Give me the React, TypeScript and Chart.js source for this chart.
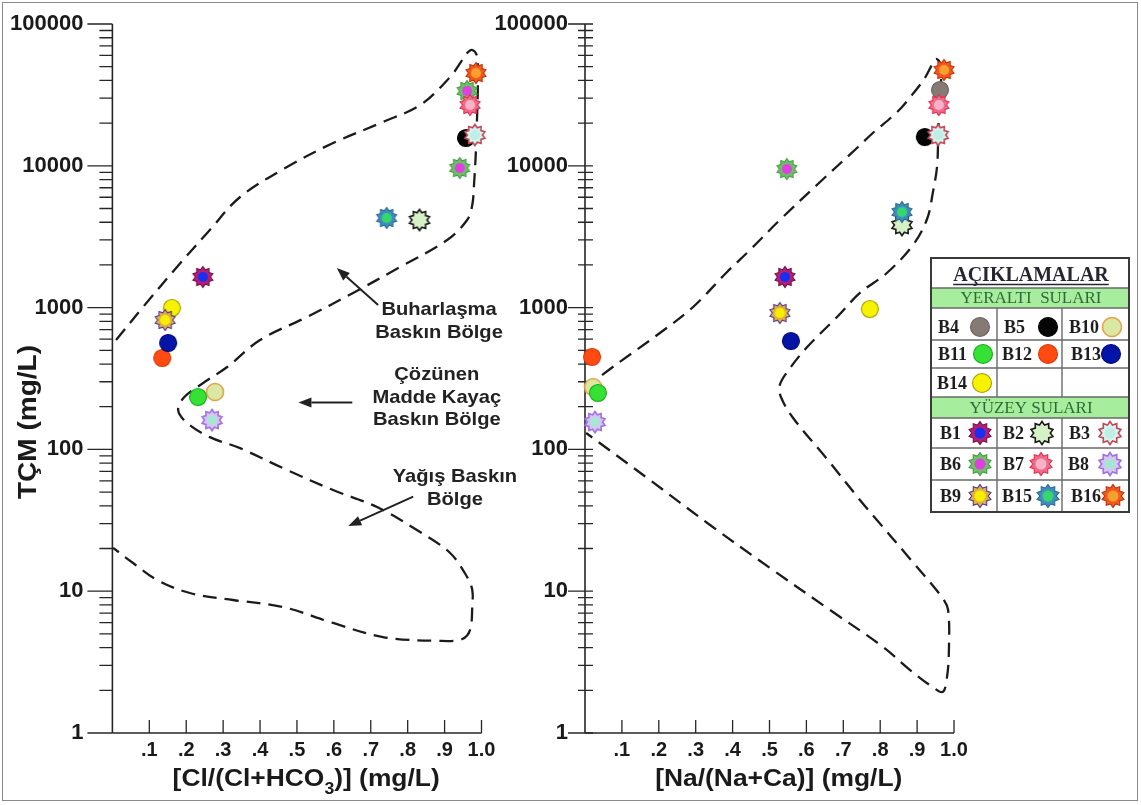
import React, { useEffect, useRef } from 'react';
import { Chart, registerables } from 'chart.js';

Chart.register(...registerables);

const PAGE_W = 1141;
const PAGE_H = 805;
const FONT = '"Liberation Sans", Arial, Helvetica, sans-serif';
const SERIF = '"Liberation Serif", "Times New Roman", serif';
Chart.defaults.font.family = FONT;

// ---------------- data ----------------
const sampleNames = ['B4', 'B5', 'B10', 'B11', 'B12', 'B13', 'B14', 'B1', 'B2', 'B3', 'B6', 'B7', 'B8', 'B9', 'B15', 'B16'];
// Cl/(Cl+HCO3) panel
const clRatio = [0.961, 0.958, 0.278, 0.232, 0.135, 0.151, 0.161, 0.245, 0.832, 0.982, 0.941, 0.969, 0.270, 0.143, 0.743, 0.985];
const tdsCl = [33700, 15700, 254, 234, 441, 563, 994, 1644, 4150, 16500, 9650, 26840, 161, 818, 4285, 45100];
// Na/(Na+Ca) panel
const naRatio = [0.962, 0.921, 0.022, 0.035, 0.019, 0.558, 0.772, 0.542, 0.859, 0.957, 0.547, 0.959, 0.027, 0.528, 0.859, 0.973];
const tdsNa = [34250, 15960, 275, 250, 449, 581, 977, 1644, 3823, 16500, 9490, 26840, 156, 916, 4720, 47400];

// Gibbs boundary (dashed) curves
const gibbsClX = [0.010, 0.083, 0.175, 0.264, 0.346, 0.473, 0.598, 0.733, 0.834, 0.915, 0.948, 0.961, 0.975, 0.988, 0.990, 0.990, 0.988, 0.985, 0.980, 0.975, 0.961, 0.907, 0.779, 0.652, 0.527, 0.400, 0.311, 0.246, 0.195, 0.178, 0.202, 0.264, 0.346, 0.473, 0.598, 0.717, 0.825, 0.915, 0.961, 0.975, 0.975, 0.969, 0.948, 0.888, 0.733, 0.598, 0.462, 0.327, 0.210, 0.121, 0.056, 0.002];
const gibbsClY = [591, 1010, 1933, 3526, 6026, 9806, 14480, 20360, 26840, 42290, 55740, 62450, 65550, 59480, 47380, 34240, 22090, 12920, 7560, 5290, 4147, 2997, 1933, 1268, 858, 591, 381, 294, 234, 190, 154, 122, 102, 71.6, 51.7, 39.2, 27.0, 18.6, 12.6, 10.2, 7.74, 5.33, 4.6, 4.46, 4.75, 5.97, 7.74, 8.67, 9.71, 12.0, 15.8, 20.2];
const gibbsNaX = [0.003, 0.054, 0.203, 0.293, 0.385, 0.447, 0.528, 0.637, 0.737, 0.780, 0.846, 0.886, 0.921, 0.940, 0.951, 0.962, 0.965, 0.959, 0.957, 0.954, 0.943, 0.927, 0.889, 0.818, 0.745, 0.683, 0.602, 0.556, 0.528, 0.531, 0.564, 0.656, 0.745, 0.791, 0.881, 0.967, 0.984, 0.986, 0.981, 0.970, 0.943, 0.881, 0.808, 0.664, 0.501, 0.339, 0.176, 0.003];
const gibbsNaY = [262, 346, 662, 1010, 1783, 2548, 4147, 7688, 13350, 17030, 23950, 31570, 41610, 51380, 56660, 53090, 40290, 23570, 15200, 9806, 6535, 4214, 2764, 1754, 1268, 858, 527, 375, 285, 234, 166.5, 85.5, 44, 31.8, 16.9, 9.1, 7.37, 3.66, 2.48, 1.95, 2.1, 2.78, 4.04, 7.37, 14.6, 29.3, 60.8, 130.6];

// axis ticks
const xTickValues = [0, 0.1, 0.2, 0.3, 0.4, 0.5, 0.6, 0.7, 0.8, 0.9, 1.0];
const yDecades = [1, 10, 100, 1000, 10000, 100000];
const yMinorMultipliers = [2, 3, 4, 5, 6, 7, 8, 9];

// texts
const yTitle = 'TÇM (mg/L)';
const xTitleCl = [{ t: '[Cl/(Cl+HCO' }, { t: '3', sub: true }, { t: ')] (mg/L)' }];
const xTitleNa = [{ t: '[Na/(Na+Ca)] (mg/L)' }];
const regionLabels = [
  { lines: ['Buharlaşma', 'Baskın Bölge'], x: 0.885, y: 962 },
  { lines: ['Çözünen', 'Madde Kayaç', 'Baskın Bölge'], x: 0.879, y: 335 },
  { lines: ['Yağış Baskın', 'Bölge'], x: 0.928, y: 64 },
];
const regionArrows = [
  { from: [0.720, 1043], to: [0.608, 1902] },
  { from: [0.650, 214], to: [0.504, 214] },
  { from: [0.815, 46.4], to: [0.639, 28.8] },
];
const legendTitle = 'AÇIKLAMALAR';
const groundLabel = 'YERALTI  SULARI';
const surfaceLabel = 'YÜZEY SULARI';

// ---------------- styles ----------------
type Mk = { kind: 'circle' | 'star'; fill: string; stroke: string; center?: string; lw?: number };
const markerStyles: Record<string, Mk> = {
  B4: { kind: 'circle', fill: '#857b74', stroke: '#6d645e' },
  B5: { kind: 'circle', fill: '#050505', stroke: '#000000' },
  B10: { kind: 'circle', fill: '#d9e9a3', stroke: '#e5a24e', lw: 1.6 },
  B11: { kind: 'circle', fill: '#34e234', stroke: '#1fa81f' },
  B12: { kind: 'circle', fill: '#ff4b12', stroke: '#d83a05' },
  B13: { kind: 'circle', fill: '#0414a8', stroke: '#020a70' },
  B14: { kind: 'circle', fill: '#f6f200', stroke: '#a89e00' },
  B1: { kind: 'star', fill: '#b0207a', stroke: '#7a1040', center: '#1a2ef0' },
  B2: { kind: 'star', fill: '#d6f1c6', stroke: '#1a1a1a', center: '#d6f1c6', lw: 1.6 },
  B3: { kind: 'star', fill: '#d6f3ee', stroke: '#c04858', center: '#bfeee6', lw: 1.6 },
  B6: { kind: 'star', fill: '#6fbf6a', stroke: '#4a9a48', center: '#e040e0' },
  B7: { kind: 'star', fill: '#f26a8a', stroke: '#e03050', center: '#f7b4c8' },
  B8: { kind: 'star', fill: '#d8c4f4', stroke: '#a070e0', center: '#a8e6d4', lw: 1.6 },
  B9: { kind: 'star', fill: '#e0b040', stroke: '#503a90', center: '#f6f000' },
  B15: { kind: 'star', fill: '#3f8ec0', stroke: '#2a6a90', center: '#34d86a' },
  B16: { kind: 'star', fill: '#f25a1c', stroke: '#c0300a', center: '#f5a030' },
};
// in the Cl panel the B4 point is printed with the B6 symbol
const clStyleOverride: Record<string, string> = { B4: 'B6' };

function makeMarker(name: string, big: boolean): HTMLCanvasElement {
  const st = markerStyles[name];
  const c = document.createElement('canvas');
  const size = big ? 28 : 26;
  c.width = size;
  c.height = size;
  const g = c.getContext('2d')!;
  const cx = size / 2;
  const cy = size / 2;
  if (st.kind === 'circle') {
    const r = big ? 9.5 : 8.5;
    g.beginPath();
    g.arc(cx, cy, r, 0, Math.PI * 2);
    g.fillStyle = st.fill;
    g.fill();
    g.lineWidth = st.lw || 1.1;
    g.strokeStyle = st.stroke;
    g.stroke();
  } else {
    const R = big ? 11.5 : 10.5;
    const r = R * 0.72;
    const n = 10;
    g.beginPath();
    for (let i = 0; i < 2 * n; i++) {
      const a = -Math.PI / 2 + (i * Math.PI) / n;
      const rr = i % 2 === 0 ? R : r;
      const px = cx + rr * Math.cos(a);
      const py = cy + rr * Math.sin(a);
      if (i === 0) g.moveTo(px, py);
      else g.lineTo(px, py);
    }
    g.closePath();
    g.fillStyle = st.fill;
    g.fill();
    g.lineWidth = st.lw || 1.1;
    g.strokeStyle = st.stroke;
    g.stroke();
    g.beginPath();
    g.arc(cx, cy, R * 0.48, 0, Math.PI * 2);
    g.fillStyle = st.center || st.fill;
    g.fill();
  }
  return c;
}

function drawTitleParts(ctx: CanvasRenderingContext2D, parts: { t: string; sub?: boolean }[], cx: number, baseline: number, size: number, sx: number) {
  ctx.save();
  const fMain = `bold ${size}px ${FONT}`;
  const fSub = `bold ${Math.round(size * 0.68)}px ${FONT}`;
  let total = 0;
  const widths = parts.map((p) => {
    ctx.font = p.sub ? fSub : fMain;
    const w = ctx.measureText(p.t).width;
    total += w;
    return w;
  });
  ctx.translate(cx, baseline);
  ctx.scale(sx, 1);
  let x = -total / 2;
  ctx.textBaseline = 'alphabetic';
  ctx.textAlign = 'left';
  ctx.fillStyle = '#1a1a1a';
  parts.forEach((p, i) => {
    ctx.font = p.sub ? fSub : fMain;
    ctx.fillText(p.t, x, p.sub ? size * 0.32 : 0);
    x += widths[i];
  });
  ctx.restore();
}

function drawArrow(ctx: CanvasRenderingContext2D, x1: number, y1: number, x2: number, y2: number) {
  const ang = Math.atan2(y2 - y1, x2 - x1);
  const hl = 13;
  const hw = 5;
  const bx = x2 - hl * Math.cos(ang);
  const by = y2 - hl * Math.sin(ang);
  ctx.beginPath();
  ctx.moveTo(x1, y1);
  ctx.lineTo(bx, by);
  ctx.stroke();
  ctx.beginPath();
  ctx.moveTo(x2, y2);
  ctx.lineTo(bx + hw * Math.sin(ang), by - hw * Math.cos(ang));
  ctx.lineTo(bx - hw * Math.sin(ang), by + hw * Math.cos(ang));
  ctx.closePath();
  ctx.fill();
}

function drawLegend(ctx: CanvasRenderingContext2D, markers: Record<string, HTMLCanvasElement>) {
  const L = 931, T = 258, R = 1129, B = 512;
  const c1 = 997, c2 = 1062;
  ctx.save();
  ctx.fillStyle = '#ffffff';
  ctx.fillRect(L, T, R - L, B - T);
  // green bands
  ctx.fillStyle = '#a6ee9e';
  ctx.fillRect(L, 288, R - L, 20);
  ctx.fillRect(L, 397, R - L, 21);
  // grid lines
  ctx.strokeStyle = '#6a6a6a';
  ctx.lineWidth = 1.4;
  ctx.beginPath();
  [288, 308, 340, 368, 397, 418, 448, 480].forEach((y) => {
    ctx.moveTo(L, y);
    ctx.lineTo(R, y);
  });
  [c1, c2].forEach((x) => {
    ctx.moveTo(x, 308);
    ctx.lineTo(x, 397);
    ctx.moveTo(x, 418);
    ctx.lineTo(x, B);
  });
  ctx.stroke();
  ctx.strokeStyle = '#3a3a3a';
  ctx.lineWidth = 2;
  ctx.strokeRect(L, T, R - L, B - T);
  // title
  ctx.fillStyle = '#262630';
  ctx.font = `bold 20px ${SERIF}`;
  ctx.textAlign = 'center';
  ctx.textBaseline = 'alphabetic';
  ctx.fillText(legendTitle, 1031, 281);
  const tw = ctx.measureText(legendTitle).width;
  ctx.strokeStyle = '#262630';
  ctx.lineWidth = 1.3;
  ctx.beginPath();
  ctx.moveTo(1031 - tw / 2, 284.5);
  ctx.lineTo(1031 + tw / 2, 284.5);
  ctx.stroke();
  // band labels
  ctx.fillStyle = '#2f6a36';
  ctx.font = `17px ${SERIF}`;
  ctx.textBaseline = 'middle';
  ctx.fillText(groundLabel, 1031, 299);
  ctx.fillText(surfaceLabel, 1031, 408.5);
  // cells
  const cells: [string, number, number, number][] = [
    ['B4', 938, 980, 327], ['B5', 1004, 1048, 327], ['B10', 1069, 1112, 327],
    ['B11', 938, 983, 354], ['B12', 1002, 1048, 354], ['B13', 1071, 1111, 354],
    ['B14', 937, 982, 383],
    ['B1', 940, 980, 433], ['B2', 1003, 1042, 433], ['B3', 1069, 1110, 433],
    ['B6', 940, 980, 464], ['B7', 1003, 1041, 464], ['B8', 1068, 1110, 464],
    ['B9', 940, 980, 496], ['B15', 1002, 1048, 496], ['B16', 1071, 1113, 496],
  ];
  ctx.textAlign = 'left';
  ctx.font = `bold 18px ${SERIF}`;
  ctx.fillStyle = '#1e1e1e';
  cells.forEach(([name, tx, mx, cy]) => {
    ctx.fillText(name, tx, cy + 1);
    const img = markers[name];
    ctx.drawImage(img, mx - img.width / 2, cy - img.height / 2);
  });
  ctx.restore();
}

function buildChart(canvas: HTMLCanvasElement, panel: 'cl' | 'na'): Chart {
  const isLeft = panel === 'cl';
  const xs = isLeft ? clRatio : naRatio;
  const ys = isLeft ? tdsCl : tdsNa;
  const cxs = isLeft ? gibbsClX : gibbsNaX;
  const cys = isLeft ? gibbsClY : gibbsNaY;
  const yAxisWidth = isLeft ? 112.4 : 585;
  const padRight = isLeft ? PAGE_W - 481.5 : PAGE_W - 954;
  const labelPad = isLeft ? 29 : 17;
  const majorOut = isLeft ? 25 : 17;
  const minorOut = isLeft ? 13 : 7;
  const tickIn = isLeft ? 0 : 8;

  const n = sampleNames.length;
  const sampleSets = sampleNames.map((name, i) => {
    const styleName = isLeft && clStyleOverride[name] ? clStyleOverride[name] : name;
    return {
      label: name,
      data: [{ x: xs[i], y: ys[i] }],
      pointStyle: makeMarker(styleName, false),
      pointRadius: 10,
      showLine: false,
      order: n - i,
      clip: false,
    };
  });
  const curveSet = {
    label: 'Gibbs',
    data: cxs.map((x, i) => ({ x, y: cys[i] })),
    showLine: true,
    borderColor: '#1b1b1b',
    borderWidth: 2.3,
    borderDash: [14, 8],
    pointRadius: 0,
    tension: 0.35,
    fill: false,
    order: 100,
    clip: false,
  };

  const legendMarkers: Record<string, HTMLCanvasElement> = {};
  sampleNames.forEach((nm) => (legendMarkers[nm] = makeMarker(nm, true)));

  const axesPlugin = {
    id: 'gibbsAxes' + panel,
    beforeDatasetsDraw(chart: any) {
      const { ctx, chartArea: ca, scales } = chart;
      const x = scales.x;
      const y = scales.y;
      ctx.save();
      ctx.strokeStyle = '#262626';
      ctx.lineWidth = 1.6;
      ctx.beginPath();
      ctx.moveTo(ca.left, y.getPixelForValue(100000));
      ctx.lineTo(ca.left, y.getPixelForValue(1));
      ctx.moveTo(ca.left, ca.bottom);
      ctx.lineTo(x.getPixelForValue(1), ca.bottom);
      ctx.stroke();
      ctx.lineWidth = 1.3;
      ctx.beginPath();
      xTickValues.forEach((v) => {
        if (v === 0) return;
        const px = x.getPixelForValue(v);
        ctx.moveTo(px, ca.bottom);
        ctx.lineTo(px, ca.bottom - 13);
      });
      yDecades.forEach((d) => {
        const py = y.getPixelForValue(d);
        ctx.moveTo(ca.left - majorOut, py);
        ctx.lineTo(ca.left + tickIn, py);
        if (d < 100000) {
          yMinorMultipliers.forEach((m) => {
            const pm = y.getPixelForValue(d * m);
            ctx.moveTo(ca.left - minorOut, pm);
            ctx.lineTo(ca.left + tickIn, pm);
          });
        }
      });
      ctx.stroke();
      ctx.restore();
    },
    afterDraw(chart: any) {
      const { ctx, scales } = chart;
      const x = scales.x;
      const y = scales.y;
      drawTitleParts(ctx, isLeft ? xTitleCl : xTitleNa, x.getPixelForValue(0.525), 786, 24, 1.1);
      if (isLeft) {
        ctx.save();
        ctx.translate(29, 422);
        ctx.rotate(-Math.PI / 2);
        ctx.scale(1.12, 1);
        ctx.font = `bold 25px ${FONT}`;
        ctx.fillStyle = '#1a1a1a';
        ctx.textAlign = 'center';
        ctx.textBaseline = 'middle';
        ctx.fillText(yTitle, 0, 0);
        ctx.restore();

        ctx.save();
        ctx.fillStyle = '#222222';
        ctx.strokeStyle = '#222222';
        ctx.lineWidth = 2;
        ctx.textAlign = 'center';
        ctx.textBaseline = 'middle';
        regionLabels.forEach((lab) => {
          const px = x.getPixelForValue(lab.x);
          const py = y.getPixelForValue(lab.y);
          lab.lines.forEach((t, k) => {
            ctx.save();
            ctx.translate(px, py + k * 22.5);
            ctx.scale(1.06, 1);
            ctx.font = `bold 19px ${FONT}`;
            ctx.fillText(t, 0, 0);
            ctx.restore();
          });
        });
        regionArrows.forEach((a) => {
          drawArrow(ctx, x.getPixelForValue(a.from[0]), y.getPixelForValue(a.from[1]), x.getPixelForValue(a.to[0]), y.getPixelForValue(a.to[1]));
        });
        ctx.restore();
      } else {
        drawLegend(ctx, legendMarkers);
      }
    },
  };

  return new Chart(canvas, {
    type: 'scatter',
    data: { datasets: [...sampleSets, curveSet] as any },
    options: {
      responsive: false,
      animation: false,
      events: [],
      layout: { padding: { left: 0, top: 24, right: padRight, bottom: 0 } },
      plugins: { legend: { display: false }, tooltip: { enabled: false } },
      scales: {
        x: {
          type: 'linear',
          min: 0,
          max: 1,
          position: 'bottom',
          grid: { display: false, drawTicks: false },
          border: { display: false },
          ticks: {
            padding: 5,
            color: '#1a1a1a',
            autoSkip: false,
            maxRotation: 0,
            font: { size: 20, weight: 'bold' },
            callback: (v: any) => (v === 0 ? '' : v >= 0.999 ? '1.0' : '.' + Math.round(v * 10)),
          },
          afterBuildTicks: (s: any) => {
            s.ticks = xTickValues.map((v) => ({ value: v }));
          },
          afterFit: (s: any) => {
            s.height = 72;
            s.paddingLeft = 0;
            s.paddingRight = 0;
          },
        },
        y: {
          type: 'logarithmic',
          min: 1,
          max: 100000,
          position: 'left',
          grid: { display: false, drawTicks: false },
          border: { display: false },
          ticks: {
            padding: labelPad,
            color: '#1a1a1a',
            autoSkip: false,
            font: { size: 22, weight: 'bold' },
            callback: (v: any) => String(v),
          },
          afterBuildTicks: (s: any) => {
            s.ticks = yDecades.map((v) => ({ value: v }));
          },
          afterFit: (s: any) => {
            s.width = yAxisWidth;
            s.paddingTop = 0;
            s.paddingBottom = 0;
          },
        },
      },
    } as any,
    plugins: [axesPlugin],
  });
}

export default function App() {
  const leftRef = useRef<HTMLCanvasElement>(null);
  const rightRef = useRef<HTMLCanvasElement>(null);
  useEffect(() => {
    const charts: Chart[] = [];
    if (leftRef.current) charts.push(buildChart(leftRef.current, 'cl'));
    if (rightRef.current) charts.push(buildChart(rightRef.current, 'na'));
    return () => charts.forEach((c) => c.destroy());
  }, []);
  return (
    <div style={{ position: 'absolute', left: 0, top: 0, width: PAGE_W, height: PAGE_H, background: '#ffffff', overflow: 'hidden' }}>
      <canvas ref={leftRef} width={PAGE_W} height={PAGE_H} style={{ position: 'absolute', left: 0, top: 0 }} />
      <canvas ref={rightRef} width={PAGE_W} height={PAGE_H} style={{ position: 'absolute', left: 0, top: 0 }} />
      <div style={{ position: 'absolute', left: 2, top: 2, width: PAGE_W - 7, height: PAGE_H - 8, border: '1px solid #8a8a8a', pointerEvents: 'none' }} />
    </div>
  );
}
